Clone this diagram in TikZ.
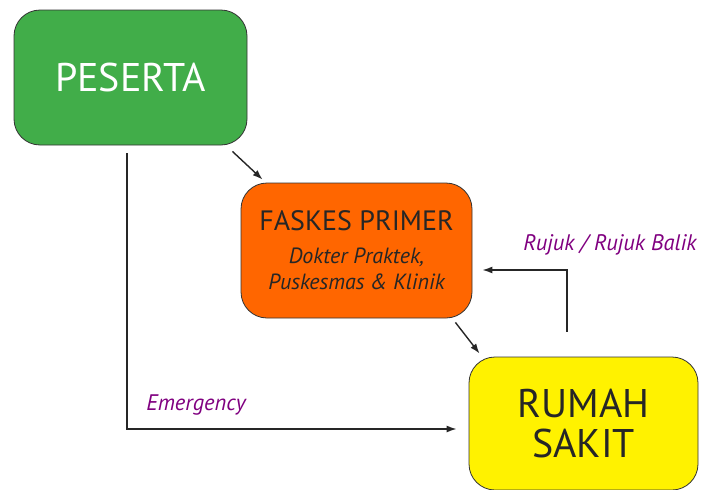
\documentclass[tikz,border=0pt]{standalone}
\usepackage{fontspec}
\setmainfont{PT Sans}
\usetikzlibrary{positioning}
\usetikzlibrary{arrows.meta}

\definecolor{pesertagreen}{RGB}{65,173,73}
\definecolor{faskesorange}{RGB}{255,102,0}
\definecolor{rsyellow}{RGB}{255,242,0}
\definecolor{labelpurple}{RGB}{128,0,128}

\tikzset{
  box/.style={draw=black!80, line width=0.8pt, rounded corners=26pt, align=center, inner sep=0pt},
  arr/.style={-{Latex[length=10pt,width=7pt]}, line width=1.4pt, black!85},
  flowlabel/.style={text=labelpurple, font=\fontsize{22.5}{26}\selectfont\itshape}
}

\begin{document}
\begin{tikzpicture}[x=1pt,y=-1pt]
            \useasboundingbox (0,0) rectangle (710,490);

            % Boxes
            \node[box, fill=pesertagreen, text=white, minimum width=233pt, minimum height=135pt,
                  font=\fontsize{40}{44}\selectfont] (peserta) at (130.5,77.5) {PESERTA};
            \node[box, fill=faskesorange, text=black!85, minimum width=231pt, minimum height=135pt,
                  font=\fontsize{22}{26}\selectfont\itshape] (faskes) at (356.5,250.5)
                  {{\upshape\fontsize{28}{30}\selectfont FASKES PRIMER}\\[7pt]
                   Dokter Praktek,\\
                   Puskesmas \& Klinik};
            \node[box, fill=rsyellow, text=black!85, minimum width=229pt, minimum height=133pt,
                  font=\fontsize{40}{40}\selectfont] (rs) at (583.5,423.5) {RUMAH\\SAKIT};

            % Arrows between boxes
            \draw[arr] ([shift={(-15,6)}]peserta.south east) -- ([shift={(22,-3)}]faskes.north west);
            \draw[arr] ([shift={(-17,4)}]faskes.south east) -- ([shift={(11,-3)}]rs.north west);

            % Emergency path
            \draw[arr, shorten <=8pt, shorten >=12pt] ([xshift=-3.5pt]peserta.south) |- ([yshift=-5.5pt]rs.west);
            \node[flowlabel] (emerg) at (196,405) {Emergency};

            % Referral back
            \draw[arr, shorten <=25pt, shorten >=10pt] ([xshift=-16.5pt]rs.north) |- ([yshift=-19.5pt]faskes.east);
            \node[flowlabel] (rujuk) at (610,245) {Rujuk / Rujuk Balik};
        \end{tikzpicture}
\end{document}
